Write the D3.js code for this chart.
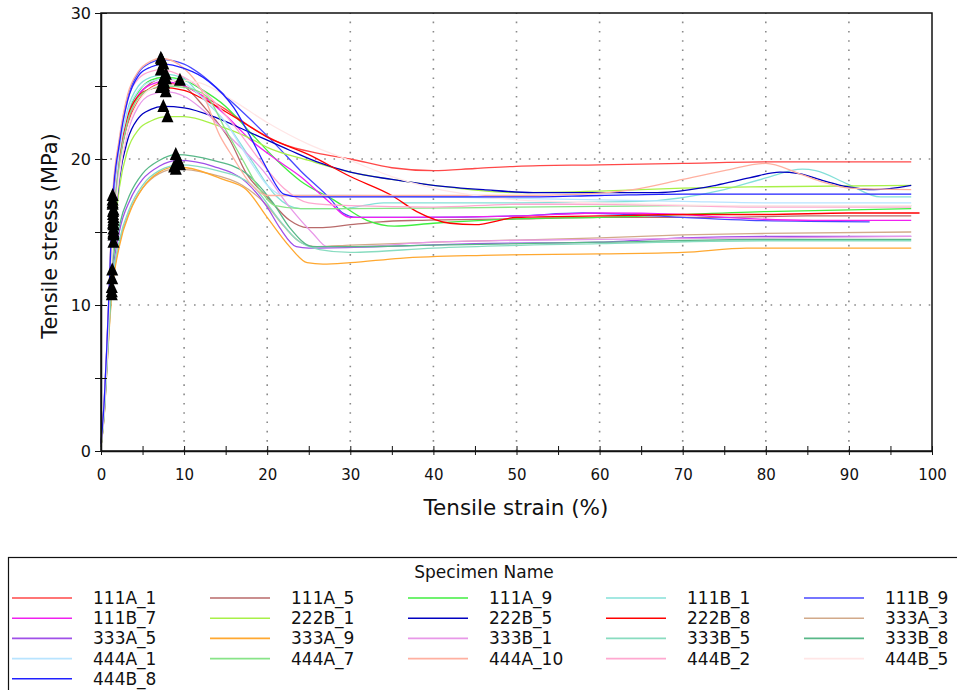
<!DOCTYPE html>
<html>
<head>
<meta charset="utf-8">
<script src="https://cdn.jsdelivr.net/npm/d3@7"></script>
<style>
  html, body { margin: 0; padding: 0; background: #fff; }
  svg { display: block; }
  text { font-family: "DejaVu Sans", Verdana, sans-serif; fill: #111; }
</style>
</head>
<body>
<svg id="chart" width="957" height="690"></svg>
<script>
// ---------------- DATA ----------------
const specimens = ["111A_1","111A_5","111A_9","111B_1","111B_9",
                   "111B_7","222B_1","222B_5","222B_8","333A_3",
                   "333A_5","333A_9","333B_1","333B_5","333B_8",
                   "444A_1","444A_7","444A_10","444B_2","444B_5",
                   "444B_8"];
const colors = ["#ff4848","#b86a6a","#40ee40","#84e0d8","#4848ff",
                "#f020f0","#a8f048","#0000c0","#ff0000","#d2aa8a",
                "#a050e8","#ffa830","#e898e8","#88dcc0","#58b888",
                "#b8e4ff","#88e488","#ffb0a0","#ffa8d0","#ffe6e6",
                "#2020ff"];
const xTicks = [0,10,20,30,40,50,60,70,80,90,100];
const yTicks = [0,10,20,30];
const xGrid = [10,20,30,40,50,60,70,80,90];
const yGrid = [10,20];
const firstMarkIndex = 4;   // index of the early (low-strain) marker on each curve

// [strain %, stress MPa]
const c111A_1 = [[0,0.4],[0.4,3],[0.7,6.5],[1.0,10.5],[1.45,15.6],[2.2,19.8],[3.2,22.4],[4.5,24.0],[6,24.9],[7.6,25.2],[10,25.0],[12,24.4],[15,23.4],[18,22.2],[22,21.0],[26,20.4],[30,20.0],[35,19.4],[40,19.2],[45,19.35],[50,19.5],[60,19.6],[70,19.7],[80,19.8],[97.5,19.8]];
const c111A_5 = [[0,0.3],[0.4,2.8],[0.7,6],[1.0,10],[1.5,15.2],[2.2,19.5],[3.2,22.5],[4.5,24.3],[6,25.2],[7.5,25.5],[10,25.0],[12.5,23.5],[15.5,21.3],[17.5,19.0],[20,17.4],[22.7,15.8],[24.8,15.3],[26.7,15.3],[30,15.5],[33.6,15.7],[38,15.8],[50,15.9],[60,16.0],[75,16.0],[85,16.1],[97.5,16.1]];
const c111A_9 = [[0,0.4],[0.4,3],[0.7,6.2],[1.0,10.2],[1.5,16.0],[2.2,20.0],[3.2,23.0],[4.5,24.6],[6,25.4],[7.6,25.6],[10,25.4],[12,24.8],[15,23.6],[18,21.8],[21,20.0],[24,18.5],[28,17.2],[32,15.8],[35.3,15.4],[40,15.6],[50,15.9],[60,16.0],[80,16.4],[97.5,16.6]];
const c111B_1 = [[0,0.4],[0.4,3.2],[0.7,6.5],[1.0,10.6],[1.45,16.4],[2.2,20.5],[3.2,23.4],[4.5,25.0],[6,25.6],[7.8,25.8],[10,25.5],[12,24.3],[15,22.5],[18,20.0],[21,17.5],[24,16.6],[29,16.6],[34,17.0],[50,17.0],[65,17.1],[75,17.9],[80,18.7],[84.4,19.3],[86,19.2],[89.8,18.3],[93.8,17.4],[97.5,17.4]];
const c111B_9 = [[0,0.5],[0.4,3.5],[0.7,7],[1.0,11.2],[1.4,17.2],[2.2,21.2],[3.2,24.2],[4.5,25.9],[6,26.6],[7.3,26.8],[10,26.5],[12,25.8],[15,24.3],[18,22.7],[21,21.0],[24,19.2],[27.7,17.2],[29.1,16.3],[30.8,16.0],[38,16.0],[50,16.1],[58,16.3],[70,16.0],[78,15.8],[92.5,15.7]];
const c111B_7 = [[0,0.4],[0.4,3],[0.7,6.4],[1.0,10.4],[1.5,15.8],[2.2,19.8],[3.2,22.8],[4.5,24.4],[6,25.1],[7.5,25.3],[10,25.0],[12,24.4],[15,23.0],[18,21.3],[21,20.0],[24,18.8],[27.2,17.2],[30,16.0],[36,16.0],[50,16.1],[60,16.3],[70,16.2],[75,16.0],[85.7,15.8],[97.5,15.8]];
const c222B_1 = [[0,0.3],[0.4,2.6],[0.7,5.8],[1.0,9.6],[1.5,14.3],[2.2,18.0],[3.2,20.6],[4.5,22.0],[6,22.6],[8,22.9],[10,22.9],[14,22.3],[18,21.4],[20,20.8],[25,19.9],[30,19.1],[35,18.6],[40,18.2],[50,17.7],[60,17.8],[70,18.0],[80,18.1],[97.5,18.2]];
const c222B_5 = [[0,0.4],[0.4,2.9],[0.7,6.2],[1.0,10.0],[1.5,14.8],[2.2,18.6],[3.2,21.3],[4.5,22.8],[6,23.4],[7.5,23.6],[10,23.5],[14,22.8],[18,21.8],[22.7,20.6],[26,19.8],[30,19.1],[35,18.6],[40,18.2],[46,17.9],[52,17.7],[60,17.7],[67,17.7],[74,18.2],[78,18.7],[81.7,19.1],[84,19.0],[87,18.5],[89.8,18.1],[93,17.9],[97.5,18.2]];
const c222B_8 = [[0,0.4],[0.4,3.1],[0.7,6.4],[1.0,10.6],[1.45,16.2],[2.2,20.2],[3.2,22.9],[4.5,24.3],[6,24.8],[7.2,24.9],[10,24.7],[12,24.2],[16,22.9],[20,21.5],[25,20.3],[30,18.8],[35,17.5],[38,16.4],[42,15.6],[45,15.5],[50,16.0],[60,16.1],[70,16.2],[80,16.2],[90,16.3],[98.5,16.3]];
const c333A_3 = [[0,0.3],[0.4,2.6],[0.7,5.6],[1.0,8.6],[1.3,10.9],[2.2,14.2],[3.5,16.5],[5,18.0],[7,19.0],[9,19.3],[13,19.0],[17,18.2],[20,16.8],[22,15.4],[24,14.3],[26,14.0],[30,14.1],[40,14.3],[60,14.6],[70,14.8],[80,14.9],[97.5,15.0]];
const c333A_5 = [[0,0.3],[0.4,2.7],[0.7,5.8],[1.0,9.0],[1.35,11.8],[2.2,15.0],[3.5,17.2],[5,18.6],[7,19.5],[9.3,19.9],[13.5,19.5],[17.5,18.4],[20,16.7],[21.5,15.3],[23.5,14.0],[25,13.9],[33.6,14.0],[45,14.2],[60,14.3],[70,14.6],[80,14.7],[97.5,14.7]];
const c333A_9 = [[0,0.3],[0.4,2.5],[0.7,5.5],[1.0,8.4],[1.3,10.7],[2.2,14.0],[3.5,16.4],[5,18.0],[7,19.1],[8.8,19.45],[10.3,19.4],[14.7,18.6],[17.5,17.9],[20,16.0],[22.7,14.0],[24.8,12.9],[26.7,12.8],[30,12.9],[36,13.2],[46,13.4],[60,13.5],[70,13.6],[77.7,13.9],[97.5,13.9]];
const c333B_1 = [[0,0.4],[0.4,3],[0.7,6.2],[1.0,10.0],[1.5,14.9],[2.2,18.8],[3.2,21.8],[4.5,23.6],[6,24.4],[7.8,24.6],[10,24.3],[12,23.5],[15.9,21.3],[19.5,19.2],[22.7,16.7],[25.5,14.9],[27.2,14.0],[30,14.0],[40,14.3],[60,14.5],[80,14.6],[97.5,14.7]];
const c333B_5 = [[0,0.3],[0.4,2.6],[0.7,5.6],[1.0,8.7],[1.3,11.2],[2.2,14.4],[3.5,16.7],[5,18.2],[7,19.2],[9.5,19.6],[14,19.2],[18,18.3],[21.5,15.8],[23.5,14.5],[26.3,13.8],[30,13.6],[40,13.9],[60,14.2],[80,14.4],[97.5,14.4]];
const c333B_8 = [[0,0.3],[0.4,2.8],[0.7,5.9],[1.0,9.2],[1.35,12.4],[2.2,15.4],[3.5,17.6],[5,19.0],[7,19.9],[9,20.3],[13.5,19.9],[17.5,19.0],[20.7,17.0],[22.7,15.3],[25.5,14.0],[30,14.0],[40,14.1],[60,14.3],[80,14.5],[97.5,14.5]];
const c444A_1 = [[0,0.4],[0.4,3.1],[0.7,6.4],[1.0,10.5],[1.5,16.5],[2.2,20.4],[3.2,23.2],[4.5,24.7],[6,25.3],[7.8,25.5],[10,25.2],[12,24.3],[15,22.5],[18,19.8],[20,18.2],[22,17.5],[30,17.5],[40,17.4],[50,17.3],[60,17.2],[70,17.1],[80,17.0],[97.5,17.0]];
const c444A_7 = [[0,0.4],[0.4,3],[0.7,6.3],[1.0,10.2],[1.5,15.5],[2.2,19.6],[3.2,22.6],[4.5,24.2],[6,24.8],[7.6,25.0],[10,24.9],[12.7,24.3],[15,22.0],[17.1,19.9],[19,18.0],[21,16.8],[24,16.6],[30,16.6],[50,16.7],[70,16.8],[97.5,16.8]];
const c444A_10 = [[0,0.5],[0.4,3.6],[0.7,7.2],[1.0,11.5],[1.4,17.5],[2.2,21.4],[3.2,24.4],[4.5,26.0],[6,26.7],[7.2,26.9],[10,26.2],[12,24.8],[14.3,21.6],[15.9,20.1],[18,18.3],[20,17.5],[30,17.5],[40,17.5],[50,17.5],[58,17.6],[64,17.9],[70,18.6],[75,19.2],[80,19.7],[84,19.0],[87,18.4],[90,18.0],[97.5,17.9]];
const c444B_2 = [[0,0.4],[0.4,3.4],[0.7,6.9],[1.0,11.0],[1.4,16.9],[2.2,21.0],[3.2,24.0],[4.5,25.5],[6,26.0],[7.2,26.1],[10,25.6],[13,24.3],[16,22.3],[19,20.0],[22,18.0],[25,17.0],[30,16.8],[40,16.7],[50,16.9],[60,16.9],[70,16.8],[80,16.7],[97.5,16.7]];
const c444B_5 = [[0,0.3],[0.4,2.8],[0.7,6.0],[1.0,9.8],[1.5,15.0],[2.2,19.0],[3.2,22.0],[4.5,23.9],[7,25.1],[9.5,25.4],[12,25.2],[15.9,24.0],[20,22.5],[25,21.0],[30,19.9],[35,18.8],[40,18.0],[45,17.5],[50,17.2],[60,17.0],[80,16.8],[97.5,16.8]];
const c444B_8 = [[0,0.5],[0.4,3.5],[0.7,7.1],[1.0,11.3],[1.4,17.0],[2.2,21.0],[3.2,24.0],[4.5,25.7],[6,26.3],[7.5,26.5],[10,26.2],[13,25.3],[16,23.5],[18,21.5],[20,19.3],[22,17.6],[24,17.4],[30,17.4],[40,17.4],[50,17.4],[60,17.5],[70,17.6],[80,17.6],[97.5,17.6]];

const curves = [c111A_1,c111A_5,c111A_9,c111B_1,c111B_9,
                c111B_7,c222B_1,c222B_5,c222B_8,c333A_3,
                c333A_5,c333A_9,c333B_1,c333B_5,c333B_8,
                c444A_1,c444A_7,c444A_10,c444B_2,c444B_5,
                c444B_8];

// ---------------- CHART ----------------
const svg = d3.select("#chart");
const L = 101, R = 932, T = 13, B = 451;
const x = d3.scaleLinear().domain([0,100]).range([L,R]);
const y = d3.scaleLinear().domain([0,30]).range([B,T]);

// dotted grid
const grid = svg.append("g").attr("stroke","#8a8a8a").attr("stroke-width",1.6)
  .attr("stroke-dasharray","1.6,7.7");
grid.selectAll("line.vx").data(xGrid).join("line")
  .attr("x1",d=>x(d)).attr("x2",d=>x(d)).attr("y1",B).attr("y2",T);
grid.selectAll("line.hy").data(yGrid).join("line")
  .attr("y1",d=>y(d)).attr("y2",d=>y(d)).attr("x1",L).attr("x2",R);

// curves
const line = d3.line().x(d=>x(d[0])).y(d=>y(d[1])).curve(d3.curveMonotoneX);
const cg = svg.append("g").attr("fill","none").attr("stroke-width",1.3);
curves.forEach((c,i)=>{
  cg.append("path").attr("d",line(c)).attr("stroke",colors[i]);
});

// frame
svg.append("rect").attr("x",L).attr("y",T).attr("width",R-L).attr("height",B-T)
  .attr("fill","none").attr("stroke","#111").attr("stroke-width",1.5);

// axes
const xAxis = d3.axisBottom(x).tickValues(d3.range(0,101,5))
  .tickFormat(d => xTicks.includes(d) ? d : "").tickSizeInner(4).tickSizeOuter(0).tickPadding(14);
const gx = svg.append("g").attr("transform",`translate(0,${B})`).call(xAxis);
gx.select(".domain").attr("stroke","#111").attr("stroke-width",1.5);
gx.selectAll(".tick line").attr("y1",-5).attr("y2",4).attr("stroke","#111");
gx.selectAll(".tick text").attr("font-size",15).attr("font-family","DejaVu Sans").attr("fill","#111");

const yAxis = d3.axisLeft(y).tickValues(d3.range(0,31,5))
  .tickFormat(d => yTicks.includes(d) ? d : "").tickSizeInner(5).tickSizeOuter(0).tickPadding(5);
const gy = svg.append("g").attr("transform",`translate(${L},0)`).call(yAxis);
gy.select(".domain").attr("stroke","#111").attr("stroke-width",1.5);
gy.selectAll(".tick line").attr("x1",-6).attr("x2",6).attr("stroke","#111");
gy.selectAll(".tick text").attr("font-size",16).attr("font-family","DejaVu Sans").attr("fill","#111");

// markers
const tri = "M0,-7.5L6,5.5L-6,5.5Z";
const mg = svg.append("g").attr("fill","#000");
curves.forEach(c=>{
  const p1 = c[firstMarkIndex];
  const pk = c.reduce((a,b)=> b[1]>a[1]?b:a);
  [p1,pk].forEach(p=>{
    mg.append("path").attr("d",tri).attr("transform",`translate(${x(p[0])},${y(p[1])})`);
  });
});

// axis titles
svg.append("text").attr("x",516).attr("y",515).attr("text-anchor","middle")
  .attr("font-size",21.5).text("Tensile strain (%)");
svg.append("text").attr("transform","translate(57,236) rotate(-90)").attr("text-anchor","middle")
  .attr("font-size",21).text("Tensile stress (MPa)");

// legend
const lg = svg.append("g");
lg.append("rect").attr("x",8.5).attr("y",557.5).attr("width",960).attr("height",150)
  .attr("fill","none").attr("stroke","#111").attr("stroke-width",1.2);
lg.append("text").attr("x",484).attr("y",578).attr("text-anchor","middle")
  .attr("font-size",17).text("Specimen Name");
specimens.forEach((name,i)=>{
  const col = i % 5, row = Math.floor(i/5);
  const x0 = 12 + col*198, yy = 598 + row*20.2;
  lg.append("line").attr("x1",x0).attr("x2",x0+60).attr("y1",yy).attr("y2",yy)
    .attr("stroke",colors[i]).attr("stroke-width",1.6);
  lg.append("text").attr("x",x0+81).attr("y",yy+6).attr("font-size",17).text(name);
});
</script>
</body>
</html>
